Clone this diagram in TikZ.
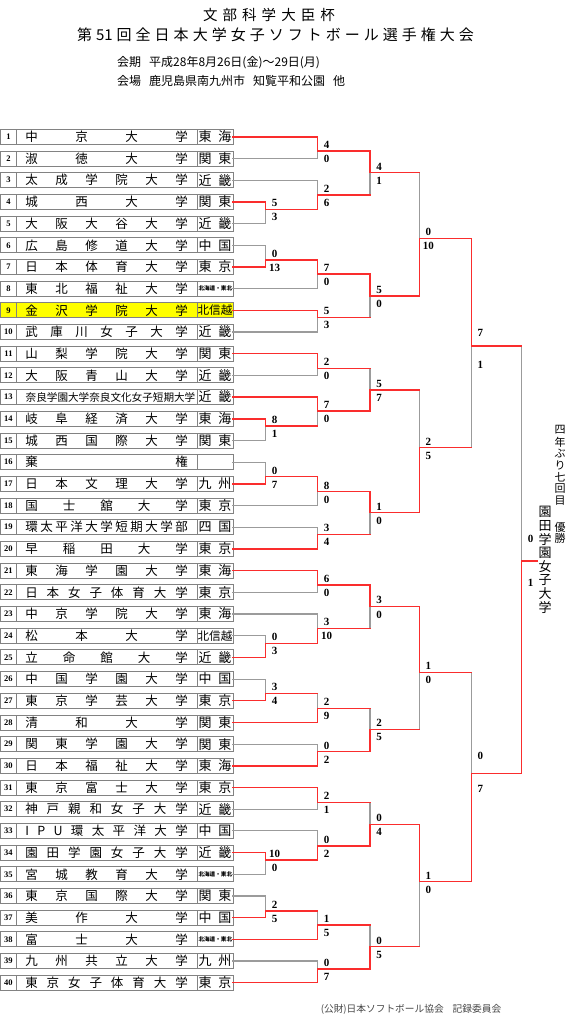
\documentclass[tikz,border=0pt]{standalone}
\usepackage{fontspec}
\setmainfont{Liberation Serif}
\newfontfamily\jp{Noto Sans CJK JP}
\definecolor{winred}{RGB}{250,45,45}
\definecolor{losegrey}{RGB}{155,155,155}
\definecolor{cellgrey}{RGB}{130,130,130}
\definecolor{hiyellow}{RGB}{255,255,0}
\definecolor{footgrey}{RGB}{70,70,70}
\makeatletter
\def\sprd@end{\sprd@end}
\def\sprd@a#1{\ifx#1\sprd@end\else#1\expandafter\sprd@b\fi}
\def\sprd@b#1{\ifx#1\sprd@end\else\hfill#1\expandafter\sprd@b\fi}
\newcommand\sprd[2]{\hbox to #1{\sprd@a#2\sprd@end}}
\newcommand\sprdx[2]{\hbox to #1{\expandafter\sprd@a#2\sprd@end}}
\makeatother
\newcommand\rtwo[1]{\fontsize{13}{13}\selectfont\sprd{33pt}{#1}}
\newcommand\rthree[1]{\fontsize{11.6}{11.6}\selectfont\sprd{35pt}{#1}}
\newcommand\rtiny{\fontsize{5.6}{5.6}\selectfont\bfseries\sprd{33pt}{北海道・東北}}
\def\teams{1/中京大学/\rtwo{東海},2/淑徳大学/\rtwo{関東},3/太成学院大学/\rtwo{近畿},4/城西大学/\rtwo{関東},5/大阪大谷大学/\rtwo{近畿},6/広島修道大学/\rtwo{中国},7/日本体育大学/\rtwo{東京},8/東北福祉大学/\rtiny,9/金沢学院大学/\rthree{北信越},10/武庫川女子大学/\rtwo{近畿},11/山梨学院大学/\rtwo{関東},12/大阪青山大学/\rtwo{近畿},13//\rtwo{近畿},14/岐阜経済大学/\rtwo{東海},15/城西国際大学/\rtwo{関東},16/棄権/{},17/日本文理大学/\rtwo{九州},18/国士舘大学/\rtwo{東京},19/環太平洋大学短期大学部/\rtwo{四国},20/早稲田大学/\rtwo{東京},21/東海学園大学/\rtwo{東海},22/日本女子体育大学/\rtwo{東京},23/中京学院大学/\rtwo{東海},24/松本大学/\rthree{北信越},25/立命館大学/\rtwo{近畿},26/中国学園大学/\rtwo{中国},27/東京学芸大学/\rtwo{東京},28/清和大学/\rtwo{関東},29/関東学園大学/\rtwo{関東},30/日本福祉大学/\rtwo{東海},31/東京富士大学/\rtwo{東京},32/神戸親和女子大学/\rtwo{近畿},33/IPU環太平洋大学/\rtwo{中国},34/園田学園女子大学/\rtwo{近畿},35/宮城教育大学/\rtiny,36/東京国際大学/\rtwo{関東},37/美作大学/\rtwo{中国},38/富士大学/\rtiny,39/九州共立大学/\rtwo{九州},40/東京女子体育大学/\rtwo{東京}}
\newcommand\bout[9]{%
  \coordinate (#1) at (#2,#3);
  \draw[#6] (#4) -- (#4 -| #1);
  \draw[#7] (#5) -- (#5 -| #1);
  \draw[#8] (#4 -| #1) -- (#1);
  \draw[#9] (#5 -| #1) -- (#1);
}
\newcommand\allbouts{%
\bout{a45}{265.7}{209.3}{r4.east}{r5.east}{winseg}{loseg}{winseg}{loseg}
\bout{a67}{265.7}{260}{r6.east}{r7.east}{loseg}{winseg}{loseg}{winseg}
\bout{b12}{317.7}{151}{r1.east}{r2.east}{winseg}{loseg}{winseg}{loseg}
\bout{b3}{317.7}{195}{r3.east}{a45}{loseg}{winseg}{loseg}{winseg}
\bout{b8}{317.7}{274}{a67}{r8.east}{winseg}{loseg}{winseg}{loseg}
\bout{b910}{317.7}{317.3}{r9.east}{r10.east}{winseg}{loseg}{winseg}{loseg}
\bout{c1}{370}{172.7}{b12}{b3}{winseg}{winseg}{winseg}{loseg}
\bout{c2}{370}{296}{b8}{b910}{winseg}{winseg}{winseg}{loseg}
\bout{d1}{419.3}{238.3}{c1}{c2}{winseg}{winseg}{loseg}{winseg}
\bout{a1415}{265.7}{426}{r14.east}{r15.east}{winseg}{loseg}{winseg}{loseg}
\bout{a1617}{265.7}{476.7}{r16.east}{r17.east}{loseg}{winseg}{loseg}{winseg}
\bout{b1112}{317.7}{368.3}{r11.east}{r12.east}{winseg}{loseg}{winseg}{loseg}
\bout{b13}{317.7}{411}{r13.east}{a1415}{winseg}{winseg}{winseg}{loseg}
\bout{b18}{317.7}{491.7}{a1617}{r18.east}{winseg}{loseg}{winseg}{loseg}
\bout{b1920}{317.7}{534.3}{r19.east}{r20.east}{loseg}{winseg}{loseg}{winseg}
\bout{c3}{370}{390}{b1112}{b13}{winseg}{winseg}{loseg}{winseg}
\bout{c4}{370}{512.7}{b18}{b1920}{winseg}{winseg}{winseg}{loseg}
\bout{d2}{419.3}{447.7}{c3}{c4}{winseg}{winseg}{loseg}{winseg}
\bout{e1}{471.3}{346}{d1}{d2}{winseg}{winseg}{winseg}{loseg}
\bout{a2425}{265.7}{643.3}{r24.east}{r25.east}{loseg}{winseg}{loseg}{winseg}
\bout{a2627}{265.7}{693.3}{r26.east}{r27.east}{loseg}{winseg}{loseg}{winseg}
\bout{b2122}{317.7}{585}{r21.east}{r22.east}{winseg}{loseg}{winseg}{loseg}
\bout{b23}{317.7}{628.3}{r23.east}{a2425}{loseg}{winseg}{loseg}{winseg}
\bout{b28}{317.7}{708.3}{a2627}{r28.east}{winseg}{winseg}{loseg}{winseg}
\bout{b2930}{317.7}{751.7}{r29.east}{r30.east}{loseg}{winseg}{loseg}{winseg}
\bout{c5}{370}{606.7}{b2122}{b23}{winseg}{winseg}{winseg}{loseg}
\bout{c6}{370}{729.3}{b28}{b2930}{winseg}{winseg}{loseg}{winseg}
\bout{d3}{419.3}{672.3}{c5}{c6}{winseg}{winseg}{winseg}{loseg}
\bout{a3435}{265.7}{860}{r34.east}{r35.east}{winseg}{loseg}{winseg}{loseg}
\bout{a3637}{265.7}{911}{r36.east}{r37.east}{loseg}{winseg}{loseg}{winseg}
\bout{b3132}{317.7}{802.3}{r31.east}{r32.east}{winseg}{loseg}{winseg}{loseg}
\bout{b33}{317.7}{846}{r33.east}{a3435}{loseg}{winseg}{loseg}{winseg}
\bout{b38}{317.7}{925}{a3637}{r38.east}{winseg}{winseg}{loseg}{winseg}
\bout{b3940}{317.7}{969}{r39.east}{r40.east}{loseg}{winseg}{loseg}{winseg}
\bout{c7}{370}{824.3}{b3132}{b33}{winseg}{winseg}{loseg}{winseg}
\bout{c8}{370}{946.7}{b38}{b3940}{winseg}{winseg}{loseg}{winseg}
\bout{d4}{419.3}{881.7}{c7}{c8}{winseg}{winseg}{winseg}{loseg}
\bout{e2}{471.3}{773.3}{d3}{d4}{winseg}{winseg}{loseg}{winseg}
\bout{f}{521.7}{561}{e1}{e2}{winseg}{winseg}{loseg}{winseg}
\coordinate (champ) at (537,561);
\draw[winseg] (f) -- (champ);
}
\newcommand\scx[5]{\node[score] (#1t) at ([shift={(9,#2)}]#1) {#4};\node[score] (#1b) at ([shift={(9,#3)}]#1) {#5};}
\newcommand\sco[3]{\scx{#1}{-6.3}{8}{#2}{#3}}
\begin{document}
\begin{tikzpicture}[x=1pt,y=-1pt,
  numcell/.style={rectangle, draw=cellgrey, line width=0.8pt, minimum width=15.5pt, minimum height=15pt, inner sep=0pt, outer sep=0pt, font=\fontsize{8.5}{8.5}\selectfont\bfseries},
  namecell/.style={rectangle, draw=cellgrey, line width=0.8pt, minimum width=181pt, minimum height=15pt, inner sep=0pt, outer sep=0pt, font=\jp\fontsize{12.5}{12.5}\selectfont},
  regcell/.style={rectangle, draw=cellgrey, line width=0.8pt, minimum width=36pt, minimum height=15pt, inner sep=0pt, outer sep=0pt, font=\jp},
  score/.style={inner sep=0pt, font=\fontsize{11}{11}\selectfont\bfseries},
  redln/.style={draw=winred, line width=1.5pt, line cap=rect},
  greyln/.style={draw=losegrey, line width=1.1pt, line cap=rect},
  vtext/.style={inner sep=0pt, font=\jp\fontsize{11}{11}\selectfont},
  wtext/.style={inner sep=0pt, font=\jp\fontsize{13}{13}\selectfont}]
\fill[white] (0,0) rectangle (571,1024);
\useasboundingbox (0,0) rectangle (571,1024);
% titles
\node[inner sep=0pt, font=\jp\fontsize{14.5}{14.5}\selectfont] (ti1) at (269,15) {\sprd{132pt}{文部科学大臣杯}};
\node[inner sep=0pt, font=\jp\fontsize{15}{15}\selectfont] (ti2) at (275.5,35) {\sprd{397pt}{第{51}回全日本大学女子ソフトボール選手権大会}};
\node[inner sep=0pt, anchor=west, font=\jp\fontsize{12}{12}\selectfont] (ki) at (117,63) {会期\hspace{8pt}平成28年8月26日(金)～29日(月)};
\node[inner sep=0pt, anchor=west, font=\jp\fontsize{12}{12}\selectfont] (ba) at (117,81) {会場\hspace{8pt}鹿児島県南九州市\hspace{8pt}知覧平和公園\hspace{8pt}他};
% team rows: number and name cells
\foreach \n/\nm/\rg in \teams {
  \pgfmathsetmacro\yy{136.8+(\n-1)*21.69}
  \ifnum\n=9\relax\def\fc{hiyellow}\else\def\fc{white}\fi
  \node[numcell, fill=\fc] (n\n) at (8.5,\yy) {\n};
  \node[namecell, fill=\fc] (u\n) at (106.5,\yy) {\sprdx{162.5pt}{\nm}};
}
\node[inner sep=0pt, anchor=west, font=\jp\fontsize{10.6}{10.6}\selectfont] (u13x) at (25.5,397.08) {奈良学園大学奈良文化女子短期大学};
% region cells
\foreach \n/\nm/\rg in \teams {
  \pgfmathsetmacro\yy{136.8+(\n-1)*21.69}
  \ifnum\n=9\relax\def\fc{hiyellow}\else\def\fc{white}\fi
  \node[regcell, fill=\fc] (r\n) at (215,\yy) {\rg};
}
% bracket: grey first, red on top
\begin{scope}[winseg/.style={draw=none}, loseg/.style={greyln}]
\allbouts
\end{scope}
\begin{scope}[winseg/.style={redln}, loseg/.style={draw=none}]
\allbouts
\end{scope}
% scores
\sco{a45}{5}{3}\sco{a67}{0}{13}\sco{b12}{4}{0}\sco{b3}{2}{6}\sco{b8}{7}{0}\sco{b910}{5}{3}\sco{c1}{4}{1}\sco{c2}{5}{0}\sco{d1}{0}{10}
\sco{a1415}{8}{1}\sco{a1617}{0}{7}\sco{b1112}{2}{0}\sco{b13}{7}{0}\sco{b18}{8}{0}\sco{b1920}{3}{4}\sco{c3}{5}{7}\sco{c4}{1}{0}\sco{d2}{2}{5}
\scx{e1}{-13.3}{19}{7}{1}
\sco{a2425}{0}{3}\sco{a2627}{3}{4}\sco{b2122}{6}{0}\sco{b23}{3}{10}\sco{b28}{2}{9}\sco{b2930}{0}{2}\sco{c5}{3}{0}\sco{c6}{2}{5}\sco{d3}{1}{0}
\sco{a3435}{10}{0}\sco{a3637}{2}{5}\sco{b3132}{2}{1}\sco{b33}{0}{2}\sco{b38}{1}{5}\sco{b3940}{0}{7}\sco{c7}{0}{4}\sco{c8}{0}{5}\sco{d4}{1}{0}
\scx{e2}{-17.3}{15.7}{0}{7}
\scx{f}{-22}{21.5}{0}{1}
% champion text
\foreach \ch/\yy [count=\k] in {四/430,年/441.8,ぶ/453.5,り/465,七/476.8,回/488.5,目/500.2,優/527,勝/538.7}
  \node[vtext] (v\k) at (560,\yy) {\ch};
\foreach \ch [count=\k] in {園,田,学,園,女,子,大,学}
  \node[wtext] (w\k) at (545,{512+(\k-1)*13.6}) {\ch};
% footer
\node[inner sep=0pt, text=footgrey, font=\jp\fontsize{9.7}{9.7}\selectfont] (footer) at (411,1009) {(公財)日本ソフトボール協会\hspace{9pt}記録委員会};
\end{tikzpicture}
\end{document}
